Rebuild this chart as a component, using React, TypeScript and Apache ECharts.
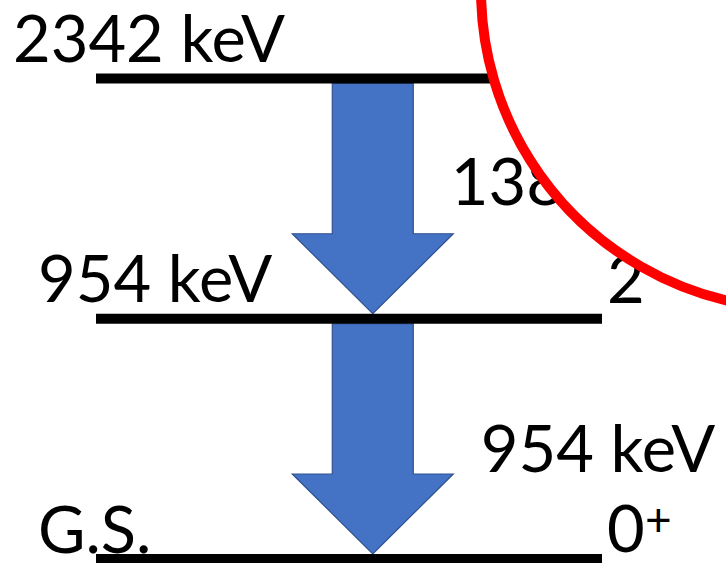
import React, { useEffect, useRef } from "react";
import * as echarts from "echarts";

// ---- data ----
const levelNames = ["G.S.", "954 keV", "2342 keV"];
const levelEnergies = [0, 954, 2342];
const levelSpins = ["0+", "2", ""];
const transitionFrom = [2, 1];
const transitionTo = [1, 0];
const transitionEnergies = [1388, 954];

// ---- layout / style ----
const W = 726;
const H = 563;
const FONT_FAMILY = "Lato, 'Open Sans', sans-serif";
const FS = 65;
const SUP_FS = 46;
const LINE_W = 10;
const LEVEL_LABEL_DX = [-58, -58, -83]; // from line start
const LEVEL_LABEL_DY = [-6, -16.5, -16.5]; // baseline relative to line centre
const SPIN_DX = 5; // from line end
const SPIN_DY = [-7, -15.5, -15.5];
const SUP_DX = 38;
const SUP_DY = -34;
const ARROW_X = 0.547; // fraction along level line
const SHAFT_HALF = 40.5;
const HEAD_HALF = 80.5;
const HEAD_LEN = 80;
const TR_LABEL_DX = [78, 108];
const TR_LABEL_DY = [-113.5, -87];
const BASE_TO_MID = 25 / 65; // baseline -> text middle, per px of font size

function textEl(text: string, x: number, yMid: number, size: number) {
  return {
    type: "text",
    x,
    y: yMid,
    style: {
      text,
      fill: "#000000",
      fontSize: size,
      fontFamily: FONT_FAMILY,
      align: "left",
      verticalAlign: "middle",
      textAlign: "left",
      textVerticalAlign: "middle",
    },
  };
}

function baseText(text: string, x: number, baseline: number, size: number) {
  return textEl(text, x, baseline - size * BASE_TO_MID, size);
}

export default function App() {
  const ref = useRef<HTMLDivElement>(null);
  useEffect(() => {
    if (!ref.current) return;
    const chart = echarts.init(ref.current, null, { renderer: "svg" });
    const levelData = levelEnergies.map((e, i) => [0, i, 1, e]);
    const transData = transitionFrom.map((f, i) => [ARROW_X, f, transitionTo[i], transitionEnergies[i]]);
    chart.setOption({
      animation: false,
      backgroundColor: "#ffffff",
      grid: { left: 96, right: 124, top: 78.5, bottom: 4 },
      xAxis: { type: "value", min: 0, max: 1, show: false },
      yAxis: { type: "value", min: 0, max: 2, show: false },
      series: [
        {
          type: "custom",
          clip: false,
          z: 3,
          data: levelData,
          encode: { x: [0, 2], y: 1 },
          renderItem: (params: any, api: any) => {
            const i = api.value(1);
            const p0 = api.coord([api.value(0), i]);
            const p1 = api.coord([api.value(2), i]);
            const children: any[] = [
              {
                type: "line",
                shape: { x1: p0[0], y1: p0[1], x2: p1[0], y2: p1[1] },
                style: { stroke: "#000000", lineWidth: LINE_W },
              },
              baseText(levelNames[i], p0[0] + LEVEL_LABEL_DX[i], p0[1] + LEVEL_LABEL_DY[i], FS),
            ];
            const spin = levelSpins[i];
            if (spin) {
              const hasParity = /[+-]$/.test(spin);
              const base = hasParity ? spin.slice(0, -1) : spin;
              const sx = p1[0] + SPIN_DX;
              const sb = p1[1] + SPIN_DY[i];
              children.push(baseText(base, sx, sb, FS));
              if (hasParity) {
                children.push(textEl(spin.slice(-1), sx + SUP_DX, sb + SUP_DY, SUP_FS));
              }
            }
            return { type: "group", children };
          },
        },
        {
          type: "custom",
          clip: false,
          z: 2,
          data: transData,
          encode: { x: 0, y: [1, 2] },
          renderItem: (params: any, api: any) => {
            const idx = params.dataIndex;
            const x = api.value(0);
            const top = api.coord([x, api.value(1)]);
            const bot = api.coord([x, api.value(2)]);
            const cx = top[0];
            const y0 = top[1] + LINE_W / 2;
            const tip = bot[1] - LINE_W / 2;
            const hb = tip - HEAD_LEN;
            const pts = [
              [cx - SHAFT_HALF, y0],
              [cx + SHAFT_HALF, y0],
              [cx + SHAFT_HALF, hb],
              [cx + HEAD_HALF, hb],
              [cx, tip],
              [cx - HEAD_HALF, hb],
              [cx - SHAFT_HALF, hb],
            ];
            return {
              type: "group",
              children: [
                {
                  type: "polygon",
                  shape: { points: pts },
                  style: { fill: "#4472C4", stroke: "#2F528F", lineWidth: 1.2 },
                },
                baseText(
                  api.value(3) + " keV",
                  cx + TR_LABEL_DX[idx],
                  bot[1] + TR_LABEL_DY[idx],
                  FS
                ),
              ],
            };
          },
        },
      ],
      graphic: [
        {
          type: "circle",
          z: 100,
          shape: { cx: 800, cy: -10, r: 319 },
          style: { fill: "#ffffff", stroke: "#ff0000", lineWidth: 10 },
        },
      ],
    });
    return () => chart.dispose();
  }, []);
  return (
    <div
      ref={ref}
      style={{ position: "absolute", left: 0, top: 0, width: W, height: H, background: "#fff" }}
    />
  );
}
